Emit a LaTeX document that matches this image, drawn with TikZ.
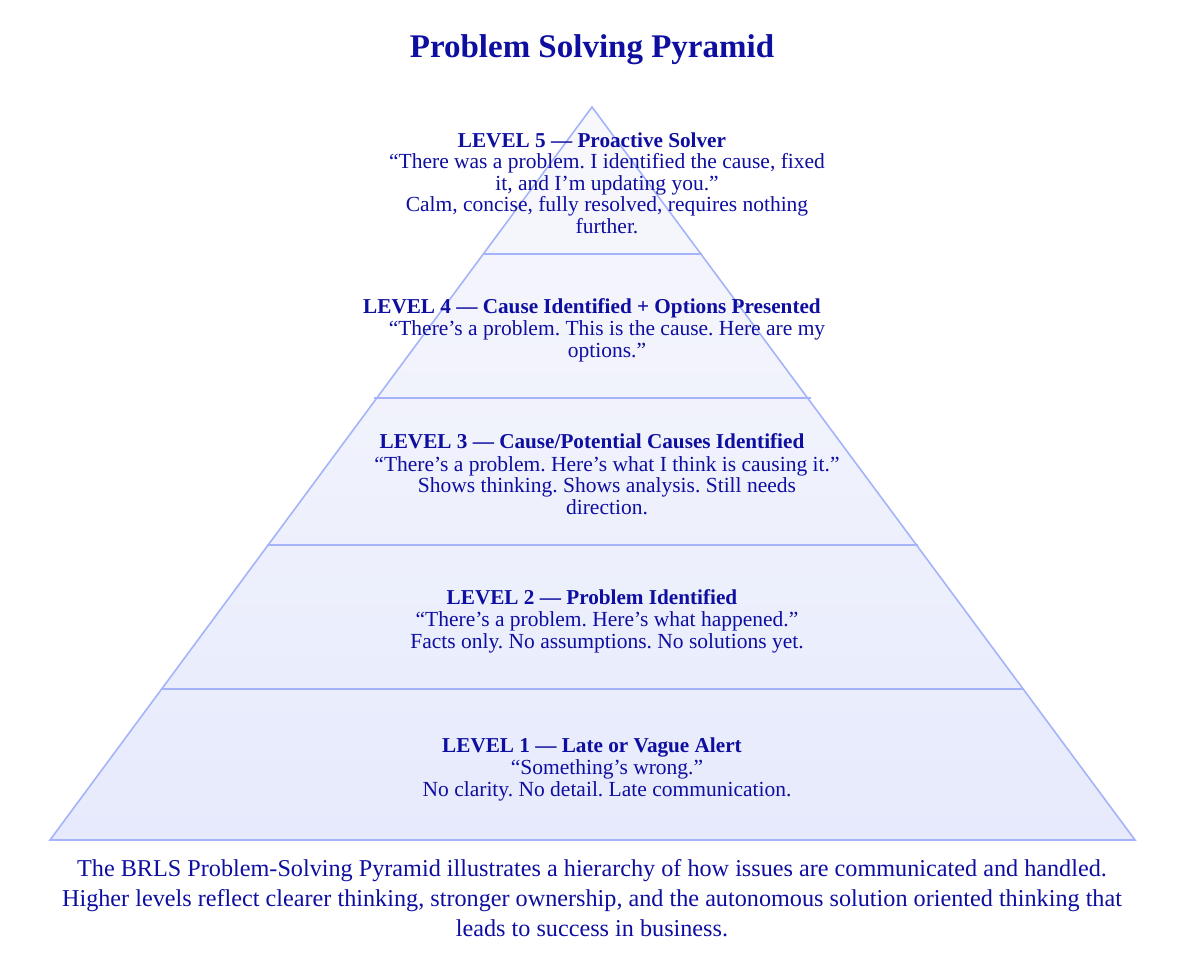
\documentclass[tikz,border=0pt]{standalone}
\usepackage{fontspec}
\setmainfont{Liberation Serif}
\frenchspacing
\definecolor{txt}{RGB}{14,14,160}
\definecolor{edgeblue}{RGB}{165,180,250}
\definecolor{filltop}{RGB}{248,248,252}
\definecolor{fillbot}{RGB}{230,234,252}
\tikzset{
  lvltitle/.style={anchor=base, inner sep=0pt, text=txt, font=\fontsize{21.2}{21}\selectfont\bfseries},
  lvlbody/.style={anchor=base, inner sep=0pt, text=txt, align=center, font=\fontsize{21.5}{21.4}\selectfont},
  band/.style={draw=edgeblue, line width=1.6pt},
}
\begin{document}
\begin{tikzpicture}[x=1pt,y=-1pt]
\useasboundingbox (0,0) rectangle (1185,978);
\fill[white] (0,0) rectangle (1185,978);
% pyramid
\coordinate (apex) at (592,107);
\coordinate (bl) at (50,840);
\coordinate (br) at (1135,840);
\shade[top color=filltop, bottom color=fillbot] (apex) -- (br) -- (bl) -- cycle;
\draw[band] (483,254) -- (702,254);
\draw[band] (374,398) -- (811,398);
\draw[band] (267,545) -- (918,545);
\draw[band] (161,689) -- (1024,689);
\draw[band, line join=miter] (apex) -- (br) -- (bl) -- cycle;
% title
\node[anchor=base, inner sep=0pt, text=txt, font=\fontsize{33}{33}\selectfont\bfseries] (title) at (592,57) {Problem Solving Pyramid};
% level 5 (body anchor = baseline of last line)
\node[lvltitle] (t5) at (592,147) {LEVEL 5 — Proactive Solver};
\node[lvlbody] (b5) at (607,233) {“There was a problem. I identified the cause, fixed\\it, and I’m updating you.”\\Calm, concise, fully resolved, requires nothing\\further.};
% level 4
\node[lvltitle] (t4) at (592,313) {LEVEL 4 — Cause Identified + Options Presented};
\node[lvlbody] (b4) at (607,357) {“There’s a problem. This is the cause. Here are my\\options.”};
% level 3
\node[lvltitle] (t3) at (592,448) {LEVEL 3 — Cause/Potential Causes Identified};
\node[lvlbody] (b3) at (607,514) {“There’s a problem. Here’s what I think is causing it.”\\Shows thinking. Shows analysis. Still needs\\direction.};
% level 2
\node[lvltitle] (t2) at (592,604) {LEVEL 2 — Problem Identified};
\node[lvlbody] (b2) at (607,648) {“There’s a problem. Here’s what happened.”\\Facts only. No assumptions. No solutions yet.};
% level 1
\node[lvltitle] (t1) at (592,752) {LEVEL 1 — Late or Vague Alert};
\node[lvlbody] (b1) at (607,796) {“Something’s wrong.”\\No clarity. No detail. Late communication.};
% caption
\node[anchor=base, inner sep=0pt, text=txt, align=center, font=\fontsize{24.2}{30}\selectfont] (cap) at (592,936) {The BRLS Problem-Solving Pyramid illustrates a hierarchy of how issues are communicated and handled.\\Higher levels reflect clearer thinking, stronger ownership, and the autonomous solution oriented thinking that\\leads to success in business.};
\end{tikzpicture}
\end{document}
